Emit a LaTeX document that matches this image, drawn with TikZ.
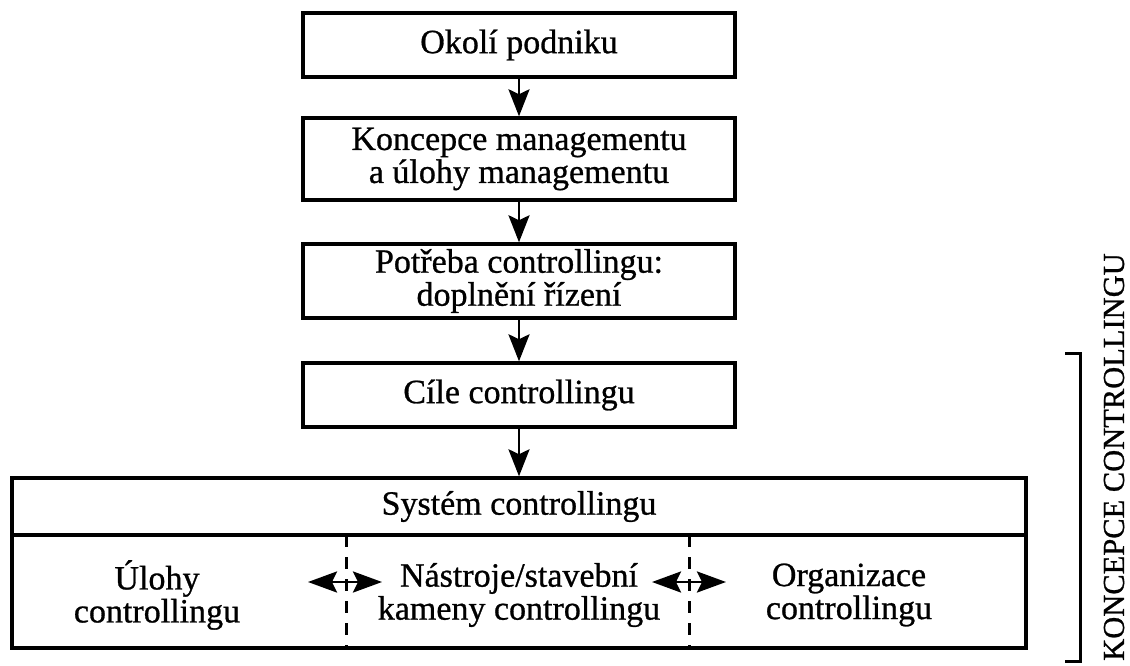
\documentclass[tikz,border=0pt]{standalone}
\usepackage{fontspec}
\setmainfont[FakeBold=0.8]{Liberation Serif}
\usetikzlibrary{arrows.meta}
\begin{document}
\begin{tikzpicture}[x=1pt,y=-1pt,
  box/.style={draw, line width=3.4pt, inner sep=0pt, align=center, font=\fontsize{34}{33}\selectfont},
  txt/.style={inner sep=0pt, align=center, font=\fontsize{34}{33}\selectfont},
  tip/.style={},
  flow/.style={line width=2.8pt, -{Stealth[length=27pt,width=21pt,inset=5pt]}},
  both/.style={line width=2.8pt, {Stealth[length=29pt,width=21pt,inset=5pt]}-{Stealth[length=29pt,width=21pt,inset=5pt]}},
  divider/.style={line width=3pt, dash pattern=on 12pt off 10pt},
  brack/.style={line width=3pt}]
\useasboundingbox (0,0) rectangle (1130,666);
\node[box, minimum width=432pt, minimum height=64pt] (b1) at (519,45) {Okolí podniku};
\node[box, minimum width=432pt, minimum height=82pt] (b2) at (519,159) {Koncepce managementu\\a úlohy managementu};
\node[box, minimum width=432pt, minimum height=74pt] (b3) at (519,281) {Potřeba controllingu:\\doplnění řízení};
\node[box, minimum width=432pt, minimum height=64pt] (b4) at (519,395) {Cíle controllingu};
\node[box, minimum width=1014pt, minimum height=57pt] (sys) at (519,506.5) {Systém controllingu};
\node[box, minimum width=1014pt, minimum height=113pt] (low) at (519,591.5) {};
\node[txt] (ul) at (157,595) {Úlohy\\controllingu};
\node[txt] (ns) at (519,595) {Nástroje/stavební\\kameny controllingu};
\node[txt] (org) at (849,595) {Organizace\\controllingu};
\draw[flow] (b1.south) -- (b2.north);
\draw[flow] (b2.south) -- (b3.north);
\draw[flow] (b3.south) -- (b4.north);
\draw[flow] (b4.south) -- (sys.north);
\coordinate (d1t) at (346,535);
\coordinate (d1b) at (346,648);
\coordinate (d2t) at (689,535);
\coordinate (d2b) at (689,648);
\draw[divider] (d1t) -- (d1b);
\draw[divider] (d2t) -- (d2b);
\coordinate (a1l) at (308,582);
\coordinate (a1r) at (382,582);
\coordinate (a2l) at (652,582);
\coordinate (a2r) at (726,582);
\draw[both] (a1l) -- (a1r);
\draw[both] (a2l) -- (a2r);
\coordinate (kt) at (1065,353);
\coordinate (kb) at (1065,661);
\draw[brack] (kt) -| (1080,661) -- (kb);
\node[txt, rotate=90, font=\fontsize{30.5}{30}\selectfont] (kc) at (1114,457) {KONCEPCE CONTROLLINGU};
\end{tikzpicture}
\end{document}
